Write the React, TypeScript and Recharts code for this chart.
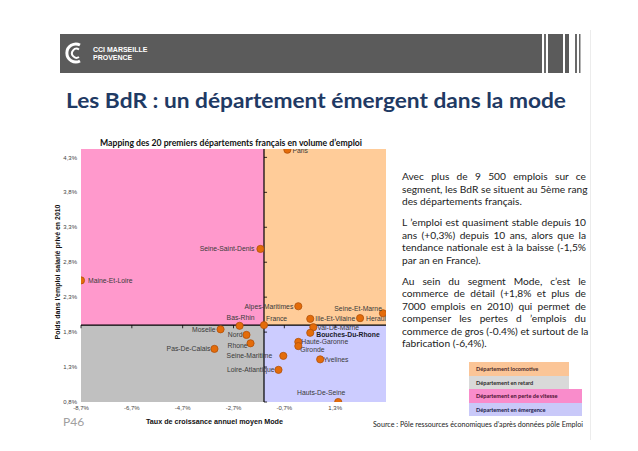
import React from "react";
import {
  ScatterChart,
  Scatter,
  XAxis,
  YAxis,
  ReferenceArea,
  ReferenceLine,
} from "recharts";

// departements (plus the France reference point)
const NAMES = [
  "Paris", "Seine-Saint-Denis", "Maine-Et-Loire", "Bas-Rhin", "France",
  "Moselle", "Nord", "Rhone", "Pas-De-Calais", "Alpes-Maritimes",
  "Ille-Et-Vilaine", "Val-De-Marne", "Bouches-Du-Rhone", "Haute-Garonne", "Gironde",
  "Seine-Et-Marne", "Herault", "Yvelines", "Seine-Maritime", "Loire-Atlantique",
  "Hauts-De-Seine",
];
// taux de croissance annuel moyen (%)
const GROWTH = [
  -0.58, -1.64, -8.7, -2.46, -1.5,
  -3.21, -2.19, -2.03, -3.45, -0.15,
  0.32, 0.44, 0.32, -0.15, -0.15,
  3.18, 2.28, 0.71, -0.74, -0.93,
  1.42,
];
// poids dans l'emploi salarie prive en 2010 (%)
const WEIGHT = [
  4.41, 2.99, 2.54, 1.89, 1.9,
  1.84, 1.76, 1.64, 1.56, 2.17,
  1.99, 1.87, 1.79, 1.66, 1.6,
  2.07, 2.0, 1.41, 1.46, 1.26,
  0.8,
];
const X_TICKS = [-8.7, -6.7, -4.7, -2.7, -0.7, 1.3];
const Y_TICKS = [0.8, 1.3, 1.8, 2.3, 2.8, 3.3, 3.8, 4.3];
const FRANCE_X = -1.5;
const FRANCE_Y = 1.9;

const X_MIN = -8.7, X_MAX = 3.3, Y_MIN = 0.8, Y_MAX = 4.42;

const data = NAMES.map((name, i) => ({ name, x: GROWTH[i], y: WEIGHT[i] }));

// where each label sits relative to its dot
const LABEL_POS: Record<string, [number, number, string]> = {
  "Paris": [5, 1, "start"],
  "Seine-Saint-Denis": [-6, 0, "end"],
  "Maine-Et-Loire": [7, 0, "start"],
  "Bas-Rhin": [1, -8, "middle"],
  "France": [2, -7, "start"],
  "Moselle": [-5, 0, "end"],
  "Nord": [-4, 0, "end"],
  "Rhone": [-3, 2, "end"],
  "Pas-De-Calais": [-4, 0, "end"],
  "Alpes-Maritimes": [-5, 0, "end"],
  "Ille-Et-Vilaine": [5, 0, "start"],
  "Val-De-Marne": [4, 0, "start"],
  "Bouches-Du-Rhone": [6, 2, "start"],
  "Haute-Garonne": [3, 0, "start"],
  "Gironde": [2, 3, "start"],
  "Seine-Et-Marne": [-1, -5, "end"],
  "Herault": [6, 0, "start"],
  "Yvelines": [3, 0, "start"],
  "Seine-Maritime": [-11, 0, "end"],
  "Loire-Atlantique": [-4, 0, "end"],
  "Hauts-De-Seine": [-17, -10, "middle"],
};

const fmt = (v: number) => v.toFixed(1).replace(".", ",") + "%";

const Dot = (props: any) => {
  const { cx, cy, payload } = props;
  const [dx, dy, anchor] = LABEL_POS[payload.name] || [5, 0, "start"];
  const bold = payload.name === "Bouches-Du-Rhone";
  return (
    <g>
      <circle cx={cx} cy={cy} r={3.6} fill="#e46c0a" stroke="#b0500a" strokeWidth={0.8} />
      <text
        x={cx + dx}
        y={cy + dy}
        textAnchor={anchor as any}
        dominantBaseline="central"
        fontSize={6.8}
        fontWeight={bold ? 700 : 400}
        fill={bold ? "#1a1a2a" : "#3a3a3a"}
        fontFamily="Liberation Sans, Arial, sans-serif"
      >
        {payload.name}
      </text>
    </g>
  );
};

const PARAGRAPHS = [
  ["Avec plus de 9 500 emplois sur ce", "segment, les BdR se situent au 5ème rang", "des départements français."],
  ["L ’emploi est quasiment stable depuis 10", "ans (+0,3%) depuis 10 ans, alors que la", "tendance nationale est à la baisse (-1,5%", "par an en France)."],
  ["Au sein du segment Mode, c’est le", "commerce de détail (+1,8% et plus de", "7000 emplois en 2010) qui permet de", "compenser les pertes d ’emplois du", "commerce de gros (-0.4%) et surtout de la", "fabrication (-6,4%)."],
];

const LEGEND = [
  { label: "Département locomotive", bg: "#fbc597", w: 100, color: "#4a2a2a" },
  { label: "Département en retard", bg: "#d9d9d9", w: 100, color: "#2a2a2a" },
  { label: "Département en perte de vitesse", bg: "#f98ccb", w: 113, color: "#4a1030" },
  { label: "Département en émergence", bg: "#c9c9f9", w: 113, color: "#1a1a4a" },
];

export default function App() {
  const tickStyle = { fontSize: 6, fill: "#444", fontFamily: "Liberation Sans, Arial, sans-serif" };
  return (
    <div style={{ position: "absolute", left: 0, top: 0, width: 638, height: 451, background: "#fff", overflow: "hidden" }}>
      <div style={{ position: "absolute", left: 0, top: 130 }}>
        <ScatterChart width={400} height={300} margin={{ top: 19, right: 14, bottom: 0, left: 0 }}>
          <XAxis
            type="number"
            dataKey="x"
            domain={[X_MIN, X_MAX]}
            ticks={X_TICKS}
            allowDataOverflow
            tickFormatter={fmt}
            axisLine={false}
            tickLine={false}
            tickSize={0}
            tickMargin={4}
            height={28}
            tick={tickStyle}
            interval={0}
          />
          <YAxis
            type="number"
            dataKey="y"
            domain={[Y_MIN, Y_MAX]}
            ticks={Y_TICKS}
            allowDataOverflow
            tickFormatter={fmt}
            axisLine={false}
            tickLine={false}
            tickSize={0}
            tickMargin={4}
            width={81}
            tick={tickStyle}
            interval={0}
          />
          <ReferenceArea x1={X_MIN} x2={FRANCE_X} y1={FRANCE_Y} y2={Y_MAX} fill="#ff99cc" fillOpacity={1} stroke="none" />
          <ReferenceArea x1={FRANCE_X} x2={X_MAX} y1={FRANCE_Y} y2={Y_MAX} fill="#ffcc99" fillOpacity={1} stroke="none" />
          <ReferenceArea x1={X_MIN} x2={FRANCE_X} y1={Y_MIN} y2={FRANCE_Y} fill="#c0c0c0" fillOpacity={1} stroke="none" />
          <ReferenceArea x1={FRANCE_X} x2={X_MAX} y1={Y_MIN} y2={FRANCE_Y} fill="#ccccff" fillOpacity={1} stroke="none" />
          <ReferenceLine x={FRANCE_X} stroke="#000" strokeWidth={1.2} />
          <ReferenceLine y={FRANCE_Y} stroke="#000" strokeWidth={1.2} />
          {Y_TICKS.map((t) => (
            <ReferenceLine key={"yt" + t} segment={[{ x: FRANCE_X, y: t }, { x: FRANCE_X + 0.12, y: t }]} stroke="#000" strokeWidth={0.8} />
          ))}
          {X_TICKS.map((t) => (
            <ReferenceLine key={"xt" + t} segment={[{ x: t, y: FRANCE_Y }, { x: t, y: FRANCE_Y - 0.045 }]} stroke="#000" strokeWidth={0.8} />
          ))}
          <Scatter data={data} shape={<Dot />} isAnimationActive={false} />
        </ScatterChart>
      </div>

      <svg width={638} height={451} style={{ position: "absolute", left: 0, top: 0, pointerEvents: "none" }}>
        {/* header banner */}
        <rect x={60} y={34} width={482} height={39} fill="#5b5b5b" />
        <rect x={544} y={34} width={2} height={39} fill="#6a6a6a" />
        <rect x={548} y={34} width={15} height={39} fill="#5b5b5b" />
        <rect x={565} y={34} width={4} height={39} fill="#5b5b5b" />
        <rect x={575} y={34} width={2} height={39} fill="#6a6a6a" />
        <rect x={579} y={34} width={1.5} height={39} fill="#6a6a6a" />
        <line x1={590.5} y1={30} x2={590.5} y2={440} stroke="#ececec" strokeWidth={1} />
        <path d="M80 45 A9 9 0 1 0 80 61" fill="none" stroke="#fff" strokeWidth={3} />
        <path d="M79 49.5 A4.5 4.5 0 1 0 79 57" fill="none" stroke="#fff" strokeWidth={2} />
        <text x={93} y={52} fontSize={7} fontWeight={700} fill="#fff" fontFamily="Liberation Sans, Arial, sans-serif">CCI MARSEILLE</text>
        <text x={93} y={60} fontSize={7} fontWeight={700} fill="#fff" fontFamily="Liberation Sans, Arial, sans-serif">PROVENCE</text>

        <text x={66} y={108} fontSize={21} fontWeight={700} fill="#1f3a64" fontFamily="Lato, sans-serif" textLength={500} lengthAdjust="spacingAndGlyphs">
          Les BdR : un département émergent dans la mode
        </text>

        <text x={100} y={145.5} fontSize={8.5} fontWeight={700} fill="#111" fontFamily="Lato, sans-serif" textLength={262} lengthAdjust="spacingAndGlyphs">
          Mapping des 20 premiers départements français en volume d’emploi
        </text>
        <text
          transform="translate(57,272) rotate(-90)"
          x={0}
          y={0}
          textAnchor="middle"
          dominantBaseline="central"
          fontSize={7.5}
          fontWeight={700}
          fill="#111"
          fontFamily="Liberation Sans, Arial, sans-serif"
          textLength={135}
          lengthAdjust="spacingAndGlyphs"
        >
          Poids dans l'emploi salarié privé en 2010
        </text>
        <text x={146} y={424} fontSize={7.5} fontWeight={700} fill="#111" fontFamily="Liberation Sans, Arial, sans-serif" textLength={137} lengthAdjust="spacingAndGlyphs">
          Taux de croissance annuel moyen Mode
        </text>
        <text x={63} y={426} fontSize={12} fill="#a0a0a0" fontFamily="Lato, sans-serif">P46</text>
        <text x={373} y={427} fontSize={7} fill="#222" fontFamily="Lato, sans-serif" textLength={210} lengthAdjust="spacingAndGlyphs">
          Source : Pôle ressources économiques d’après données pôle Emploi
        </text>
      </svg>

      <div style={{ position: "absolute", left: 402, top: 170, width: 184, fontFamily: "Lato, sans-serif", fontSize: 10.2, lineHeight: "12.5px", color: "#222" }}>
        {PARAGRAPHS.map((p, i) => (
          <div key={i} style={{ marginBottom: 8.5 }}>
            {p.map((line, j) => (
              <div key={j} style={{ textAlign: "justify", textAlignLast: j < p.length - 1 ? "justify" : "left", whiteSpace: "nowrap" as any, overflow: "visible" }}>
                {line}
              </div>
            ))}
          </div>
        ))}
      </div>

      <div style={{ position: "absolute", left: 469, top: 362 }}>
        {LEGEND.map((l) => (
          <div key={l.label} style={{ width: l.w, height: 13.5, background: l.bg, fontFamily: "Lato, sans-serif", fontSize: 5.6, fontWeight: 700, color: l.color, lineHeight: "13.5px", paddingLeft: 7, boxSizing: "border-box" }}>
            {l.label}
          </div>
        ))}
      </div>
    </div>
  );
}
